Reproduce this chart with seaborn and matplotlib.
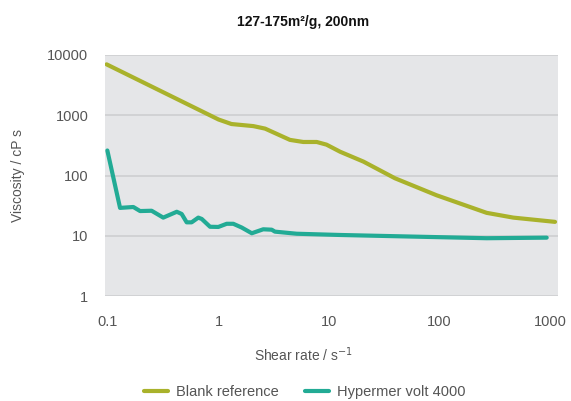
import numpy as np
import pandas as pd
import matplotlib
matplotlib.use("Agg")
import matplotlib.pyplot as plt
import seaborn as sns
from matplotlib.ticker import FixedLocator, FixedFormatter, NullLocator
from matplotlib.lines import Line2D

# Data
blank_x = [0.097, 1.0, 1.31, 2.07, 2.64, 4.43, 5.85, 7.74, 9.5, 12.6, 20.5, 39.5, 94, 267, 465, 1110]
blank_y = [7000, 850, 715, 660, 600, 390, 360, 360, 325, 248, 170, 90, 47, 24, 20, 17]

hyper_x = [0.0986, 0.1285, 0.1695, 0.195, 0.248, 0.316, 0.419, 0.464, 0.515, 0.571, 0.656, 0.705,
           0.838, 0.996, 1.186, 1.36, 1.62, 2.0, 2.54, 3.03, 3.24, 5.1, 12.6, 33.3, 267, 933]
hyper_y = [260, 29, 30, 25.7, 26, 20, 25, 23, 16.7, 16.7, 20, 19,
           14.1, 14, 15.8, 15.8, 13.7, 11, 12.8, 12.6, 11.7, 10.8, 10.3, 9.9, 9.1, 9.3]

series_names = ["Blank reference", "Hypermer volt 4000"]
colors = ["#a9b22b", "#22ab95"]

x_ticks = [0.1, 1, 10, 100, 1000]
x_tick_labels = ["0.1", "1", "10", "100", "1000"]
y_ticks = [1, 10, 100, 1000, 10000]
y_tick_labels = ["1", "10", "100", "1000", "10000"]

title = "127-175m²/g, 200nm"
xlabel = "Shear rate / s$^{-1}$"
ylabel = "Viscosity / cP s"

df = pd.concat([
    pd.DataFrame({"x": blank_x, "y": blank_y, "series": series_names[0]}),
    pd.DataFrame({"x": hyper_x, "y": hyper_y, "series": series_names[1]}),
], ignore_index=True)

sns.set_theme(style="white")
plt.rcParams["font.family"] = ["Liberation Sans", "DejaVu Sans"]

fig = plt.figure(figsize=(5.71, 4.01), dpi=100)
ax = fig.add_axes([105/571, 1 - 296/401, (558 - 105)/571, (296 - 55)/401])
ax.set_facecolor("#e5e6e8")

sns.lineplot(data=df, x="x", y="y", hue="series", palette=colors, linewidth=3.0,
             sort=False, estimator=None, ax=ax, legend=False, solid_capstyle="round")

ax.set_xscale("log")
ax.set_yscale("log")
ax.set_xlim(0.0939, 1181)
ax.set_ylim(1, 10000)
ax.xaxis.set_major_locator(FixedLocator(x_ticks))
ax.xaxis.set_major_formatter(FixedFormatter(x_tick_labels))
ax.xaxis.set_minor_locator(NullLocator())
ax.yaxis.set_major_locator(FixedLocator(y_ticks))
ax.yaxis.set_major_formatter(FixedFormatter(y_tick_labels))
ax.yaxis.set_minor_locator(NullLocator())

ax.grid(axis="y", color="#cdced0", linewidth=1.2)
ax.grid(axis="x", visible=False)
ax.set_axisbelow(True)
for s in ax.spines.values():
    s.set_visible(False)
ax.tick_params(axis="both", length=0, labelsize=10.5, labelcolor="#555555")
ax.tick_params(axis="x", pad=14)
ax.tick_params(axis="y", pad=12)

ax.set_xlabel("")
ax.set_ylabel("")
fig.text(303/571, 1 - 355/401, xlabel, ha="center", va="center", fontsize=10, color="#555555")
fig.text(18/571, 1 - 175/401, ylabel, ha="center", va="center", rotation=90, fontsize=10, color="#555555")
fig.text(303/571, 1 - 22/401, title, ha="center", va="center", fontsize=10, fontweight="bold", color="#111111")

handles = [Line2D([0], [0], color=c, linewidth=3.0, solid_capstyle="round") for c in colors]
fig.legend(handles, series_names, loc="center", bbox_to_anchor=(305/571, 1 - 392/401), ncol=2,
           frameon=False, fontsize=10.5, handlelength=1.6, handletextpad=0.6, columnspacing=1.8,
           labelcolor="#555555")

fig.savefig("out.png", dpi=100)
